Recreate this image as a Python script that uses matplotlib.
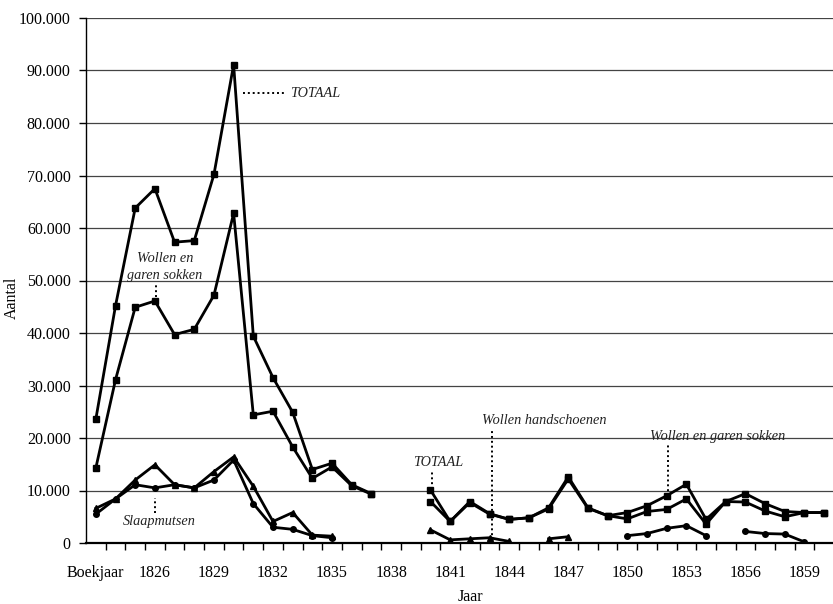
import numpy as np
import matplotlib
matplotlib.use("Agg")
import matplotlib.pyplot as plt
from matplotlib.ticker import FixedLocator

nan = np.nan

categories = ["Boekjaar"] + [str(y) for y in range(1824, 1861)]

totaal = [23600, 45200, 63800, 67500, 57300, 57600, 70200, 91100, 39400, 31500,
          24900, 14000, 15200, 11100, 9400, nan, nan, 10100, 4100, 7900,
          5600, 4500, 4800, 6700, 12600, 6700, 5200, 5800, 7100, 9000,
          11200, 4500, 7900, 9400, 7500, 6000, 5800, 5800]

sokken = [14300, 31100, 44900, 46100, 39700, 40700, 47200, 62800, 24400, 25100,
          18300, 12300, 14500, 10900, 9300, nan, nan, 7900, 4100, 7700,
          5500, 4500, 4800, 6500, 12200, 6600, 5200, 4600, 6000, 6400,
          8400, 3600, 7900, 7800, 6100, 5000, 5800, 5800]

handschoenen = [6600, 8400, 12000, 14900, 11100, 10500, 13600, 16400, 10800, 4100,
                5800, 1500, 1300, nan, nan, nan, nan, 2500, 600, 800,
                1000, 300, nan, 800, 1200, nan, nan, nan, nan, nan,
                nan, nan, nan, nan, nan, nan, nan, nan]

slaapmutsen = [5500, 8400, 11100, 10500, 11100, 10500, 12000, 15800, 7500, 3000,
               2600, 1400, 1000, nan, nan, nan, nan, nan, nan, nan,
               nan, nan, nan, nan, nan, nan, nan, 1400, 1800, 2800,
               3300, 1400, nan, 2200, 1800, 1700, 200, nan]

yticks = [0, 10000, 20000, 30000, 40000, 50000, 60000, 70000, 80000, 90000, 100000]
ytick_labels = ["0", "10.000", "20.000", "30.000", "40.000", "50.000",
                "60.000", "70.000", "80.000", "90.000", "100.000"]

serif = ["Liberation Serif", "DejaVu Serif"]
plt.rcParams["font.family"] = serif

W, H = 833, 604
fig = plt.figure(figsize=(W / 100, H / 100), dpi=100)
ax = fig.add_axes([86 / W, (H - 543) / H, (834 - 86) / W, (543 - 18) / H])

x = np.arange(len(categories))
lw = 2.0
ax.plot(x, totaal, color="black", lw=lw, marker="s", ms=5, zorder=5)
ax.plot(x, sokken, color="black", lw=lw, marker="s", ms=5, zorder=5)
ax.plot(x, handschoenen, color="black", lw=lw, marker="^", ms=4.5, zorder=4)
ax.plot(x, slaapmutsen, color="black", lw=lw, marker="o", ms=4, zorder=4)

ax.set_xlim(-0.5, len(categories) - 0.5)
ax.set_ylim(0, 100000)

ax.yaxis.set_major_locator(FixedLocator(yticks))
ax.set_yticklabels(ytick_labels)
ax.grid(axis="y", color="#444444", lw=0.9)
ax.set_axisbelow(True)

major = list(range(0, len(categories), 3))
ax.set_xticks(major)
ax.set_xticklabels([categories[i] for i in major])
ax.set_xticks(np.arange(0.5, len(categories) - 0.5, 1), minor=True)
ax.tick_params(axis="x", which="major", length=0, pad=16, labelsize=11.5)
ax.tick_params(axis="x", which="minor", length=5, direction="out", width=1, color="black")
ax.tick_params(axis="y", length=5, width=1, pad=6, labelsize=11.5)

for s in ["top", "right"]:
    ax.spines[s].set_visible(False)
ax.spines["left"].set_linewidth(1.0)
ax.spines["bottom"].set_linewidth(1.6)

fig.text(12 / W, 1 - 298 / H, "Aantal", rotation=90, ha="center", va="center", fontsize=11.5)
fig.text(470 / W, 1 - 597 / H, "Jaar", ha="center", va="center", fontsize=11.5)

ann = dict(fontsize=10.3, style="italic", color="#222222")
dot = dict(color="black", lw=1.4, ls=(0, (1, 1.5)))

# TOTAAL near peak
ax.plot([7.5, 9.6], [85700, 85700], **dot)
ax.text(9.85, 85700, "TOTAAL", va="center", ha="left", **ann)
# Wollen en garen sokken (left)
ax.text(3.5, 52600, "Wollen en\ngaren sokken", ha="center", va="center",
        linespacing=1.35, **ann)
ax.plot([3.05, 3.05], [46900, 49200], **dot)
# Slaapmutsen
ax.text(3.2, 4100, "Slaapmutsen", ha="center", va="center", **ann)
ax.plot([3.0, 3.0], [5700, 8500], **dot)
# TOTAAL right
ax.text(17.4, 15400, "TOTAAL", ha="center", va="center", **ann)
ax.plot([17.1, 17.1], [10300, 13600], **dot)
# Wollen handschoenen
ax.text(19.62, 23400, "Wollen handschoenen", ha="left", va="center", **ann)
ax.plot([20.13, 20.13], [500, 21800], **dot)
# Wollen en garen sokken (right)
ax.text(28.16, 20300, "Wollen en garen sokken", ha="left", va="center", **ann)
ax.plot([29.07, 29.07], [9000, 18800], **dot)

fig.savefig("out.png", dpi=100)
